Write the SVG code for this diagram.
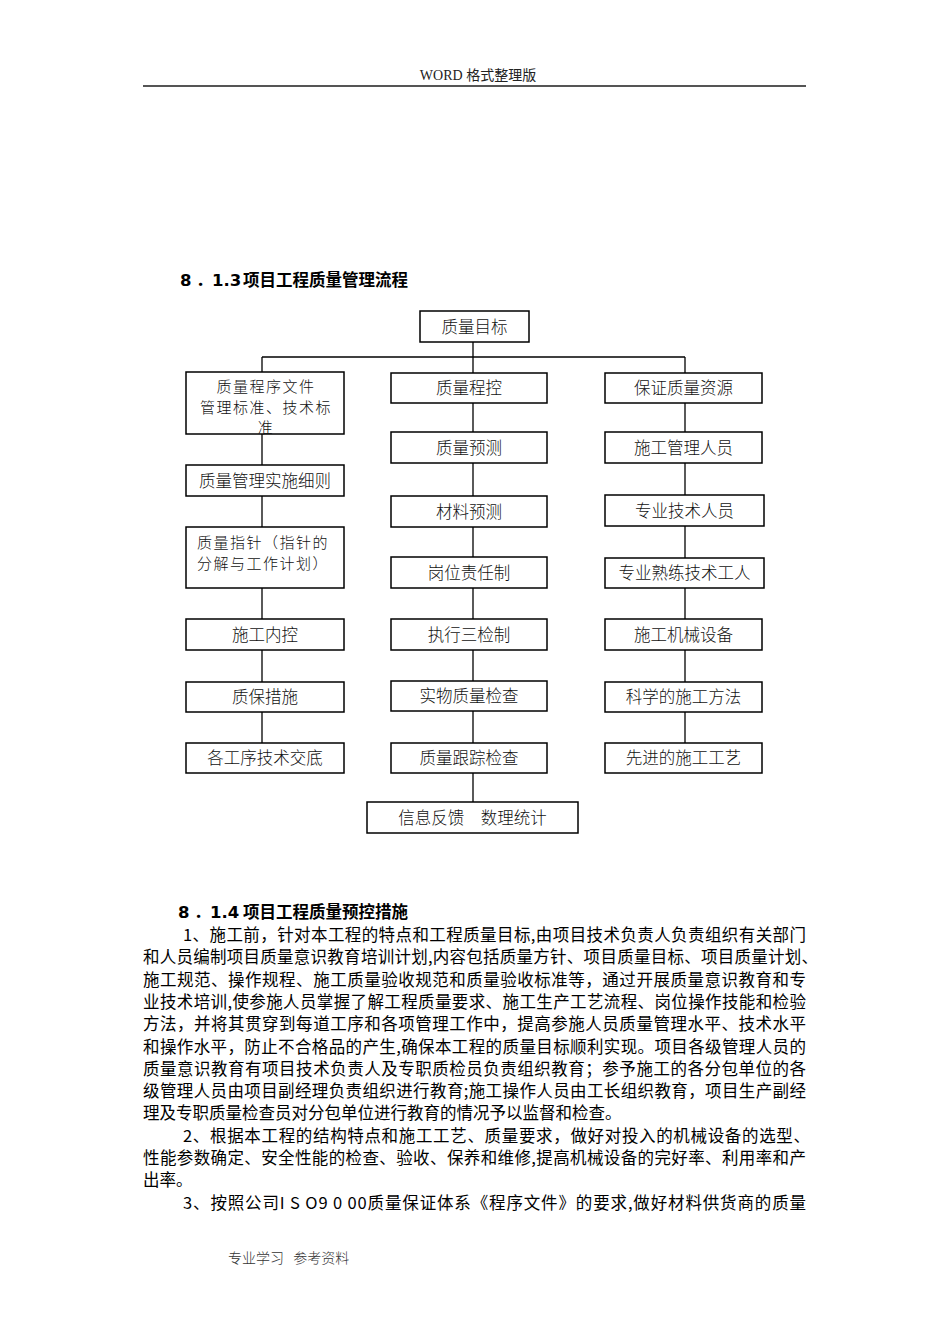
<svg xmlns="http://www.w3.org/2000/svg" width="950" height="1344" viewBox="0 0 950 1344">
<style>
.bg{fill:#ffffff}
.box{fill:#ffffff;stroke:#000000;stroke-width:1.5}
.con line{stroke:#000000;stroke-width:1.3}
.nt{font-family:"Noto Sans CJK SC","Noto Sans CJK JP",sans-serif;font-size:16.5px;font-weight:300;fill:#111111;text-anchor:middle}
.ml{font-family:"Noto Sans CJK SC","Noto Sans CJK JP",sans-serif;font-size:15px;font-weight:300;fill:#111111;letter-spacing:1.5px}
.mlc{text-anchor:middle}
.hd{font-family:"Liberation Serif","Noto Sans CJK SC",serif;font-size:14px;fill:#222222;text-anchor:middle}
.ft{font-family:"Noto Sans CJK SC",sans-serif;font-size:14px;font-weight:300;fill:#333333}
.ttl{font-family:"DejaVu Sans","Noto Sans CJK SC",sans-serif;font-size:16.5px;font-weight:bold;fill:#000000}
.ttlc{font-family:"Noto Sans CJK SC",sans-serif;font-size:16.5px;font-weight:bold;fill:#000000}
.bd{font-family:"Noto Sans CJK SC",sans-serif;font-size:16.5px;fill:#000000}
</style>
<rect class="bg" x="0" y="0" width="950" height="1344"/>

<g id="header">
<text class="hd" x="478" y="80">WORD 格式整理版</text>
<line x1="143" y1="86" x2="806" y2="86" stroke="#555555" stroke-width="2"/>
</g>

<g id="title1">
<text class="ttl" y="286"><tspan x="180">8</tspan><tspan x="196">．</tspan><tspan x="212">1.3</tspan><tspan class="ttlc" x="243">项目工程质量管理流程</tspan></text>
</g>

<g class="con" id="connectors">
<line x1="262" y1="357" x2="685" y2="357"/>
<line x1="473" y1="342" x2="473" y2="373"/>
<line x1="262" y1="357" x2="262" y2="372"/>
<line x1="685" y1="357" x2="685" y2="373"/>
<line x1="262" y1="434" x2="262" y2="465"/>
<line x1="262" y1="496" x2="262" y2="527"/>
<line x1="262" y1="588" x2="262" y2="619"/>
<line x1="262" y1="650" x2="262" y2="682"/>
<line x1="262" y1="712" x2="262" y2="743"/>
<line x1="473" y1="403" x2="473" y2="432"/>
<line x1="473" y1="463" x2="473" y2="496"/>
<line x1="473" y1="527" x2="473" y2="557"/>
<line x1="473" y1="588" x2="473" y2="619"/>
<line x1="473" y1="650" x2="473" y2="681"/>
<line x1="473" y1="711" x2="473" y2="743"/>
<line x1="473" y1="773" x2="473" y2="802"/>
<line x1="685" y1="403" x2="685" y2="432"/>
<line x1="685" y1="463" x2="685" y2="495"/>
<line x1="685" y1="526" x2="685" y2="558"/>
<line x1="685" y1="588" x2="685" y2="619"/>
<line x1="685" y1="650" x2="685" y2="682"/>
<line x1="685" y1="712" x2="685" y2="743"/>
</g>

<g id="n-top"><rect class="box" x="420" y="311" width="109" height="31"/><text class="nt" x="474.5" y="332.5">质量目标</text></g>

<g id="n-l1"><rect class="box" x="186" y="372" width="158" height="62"/>
<text class="ml mlc" y="392"><tspan x="266">质量程序文件</tspan><tspan x="266" dy="20.5">管理标准、技术标</tspan><tspan x="266" dy="20.5">准</tspan></text></g>
<g id="n-l2"><rect class="box" x="186" y="465" width="158" height="31"/><text class="nt" x="265" y="486.5">质量管理实施细则</text></g>
<g id="n-l3"><rect class="box" x="186" y="527" width="158" height="61"/>
<text class="ml" y="548"><tspan x="197">质量指针（指针的</tspan><tspan x="197" dy="20.5">分解与工作计划）</tspan></text></g>
<g id="n-l4"><rect class="box" x="186" y="619" width="158" height="31"/><text class="nt" x="265" y="640.5">施工内控</text></g>
<g id="n-l5"><rect class="box" x="186" y="682" width="158" height="30"/><text class="nt" x="265" y="703">质保措施</text></g>
<g id="n-l6"><rect class="box" x="186" y="743" width="158" height="30"/><text class="nt" x="265" y="764">各工序技术交底</text></g>

<g id="n-m1"><rect class="box" x="391" y="373" width="156" height="30"/><text class="nt" x="469" y="394">质量程控</text></g>
<g id="n-m2"><rect class="box" x="391" y="432" width="156" height="31"/><text class="nt" x="469" y="453.5">质量预测</text></g>
<g id="n-m3"><rect class="box" x="391" y="496" width="156" height="31"/><text class="nt" x="469" y="517.5">材料预测</text></g>
<g id="n-m4"><rect class="box" x="391" y="557" width="156" height="31"/><text class="nt" x="469" y="578.5">岗位责任制</text></g>
<g id="n-m5"><rect class="box" x="391" y="619" width="156" height="31"/><text class="nt" x="469" y="640.5">执行三检制</text></g>
<g id="n-m6"><rect class="box" x="391" y="681" width="156" height="30"/><text class="nt" x="469" y="702">实物质量检查</text></g>
<g id="n-m7"><rect class="box" x="391" y="743" width="156" height="30"/><text class="nt" x="469" y="764">质量跟踪检查</text></g>
<g id="n-m8"><rect class="box" x="367" y="802" width="211" height="31"/><text class="nt" x="472.5" y="823.5">信息反馈　数理统计</text></g>

<g id="n-r1"><rect class="box" x="605" y="373" width="157" height="30"/><text class="nt" x="683.5" y="394">保证质量资源</text></g>
<g id="n-r2"><rect class="box" x="605" y="432" width="157" height="31"/><text class="nt" x="683.5" y="453.5">施工管理人员</text></g>
<g id="n-r3"><rect class="box" x="605" y="495" width="159" height="31"/><text class="nt" x="684.5" y="516.5">专业技术人员</text></g>
<g id="n-r4"><rect class="box" x="605" y="558" width="159" height="30"/><text class="nt" x="684.5" y="579">专业熟练技术工人</text></g>
<g id="n-r5"><rect class="box" x="605" y="619" width="157" height="31"/><text class="nt" x="683.5" y="640.5">施工机械设备</text></g>
<g id="n-r6"><rect class="box" x="605" y="682" width="157" height="30"/><text class="nt" x="683.5" y="703">科学的施工方法</text></g>
<g id="n-r7"><rect class="box" x="605" y="743" width="157" height="30"/><text class="nt" x="683.5" y="764">先进的施工工艺</text></g>

<g id="title2">
<text class="ttl" y="918"><tspan x="178">8</tspan><tspan x="194">．</tspan><tspan x="210">1.4</tspan><tspan class="ttlc" x="243">项目工程质量预控措施</tspan></text>
</g>

<g id="body">
<text class="bd" x="183" y="941" textLength="623" lengthAdjust="spacing">1、施工前，针对本工程的特点和工程质量目标,由项目技术负责人负责组织有关部门</text>
<text class="bd" x="143" y="963.3" textLength="675" lengthAdjust="spacing">和人员编制项目质量意识教育培训计划,内容包括质量方针、项目质量目标、项目质量计划、</text>
<text class="bd" x="143" y="985.6" textLength="663" lengthAdjust="spacing">施工规范、操作规程、施工质量验收规范和质量验收标准等，通过开展质量意识教育和专</text>
<text class="bd" x="143" y="1007.9" textLength="663" lengthAdjust="spacing">业技术培训,使参施人员掌握了解工程质量要求、施工生产工艺流程、岗位操作技能和检验</text>
<text class="bd" x="143" y="1030.2" textLength="663" lengthAdjust="spacing">方法，并将其贯穿到每道工序和各项管理工作中，提高参施人员质量管理水平、技术水平</text>
<text class="bd" x="143" y="1052.5" textLength="663" lengthAdjust="spacing">和操作水平，防止不合格品的产生,确保本工程的质量目标顺利实现。项目各级管理人员的</text>
<text class="bd" x="143" y="1074.8" textLength="663" lengthAdjust="spacing">质量意识教育有项目技术负责人及专职质检员负责组织教育；参予施工的各分包单位的各</text>
<text class="bd" x="143" y="1097.1" textLength="663" lengthAdjust="spacing">级管理人员由项目副经理负责组织进行教育;施工操作人员由工长组织教育，项目生产副经</text>
<text class="bd" x="143" y="1119.4">理及专职质量检查员对分包单位进行教育的情况予以监督和检查。</text>
<text class="bd" x="183" y="1141.7" textLength="627" lengthAdjust="spacing">2、根据本工程的结构特点和施工工艺、质量要求，做好对投入的机械设备的选型、</text>
<text class="bd" x="143" y="1164" textLength="663" lengthAdjust="spacing">性能参数确定、安全性能的检查、验收、保养和维修,提高机械设备的完好率、利用率和产</text>
<text class="bd" x="143" y="1186.3">出率。</text>
<text class="bd" x="183" y="1208.6" textLength="623" lengthAdjust="spacing" xml:space="preserve">3、按照公司I S O9 0 00质量保证体系《程序文件》的要求,做好材料供货商的质量</text>
</g>

<g id="footer">
<text class="ft" x="228" y="1263" xml:space="preserve">专业学习   参考资料</text>
</g>
</svg>
